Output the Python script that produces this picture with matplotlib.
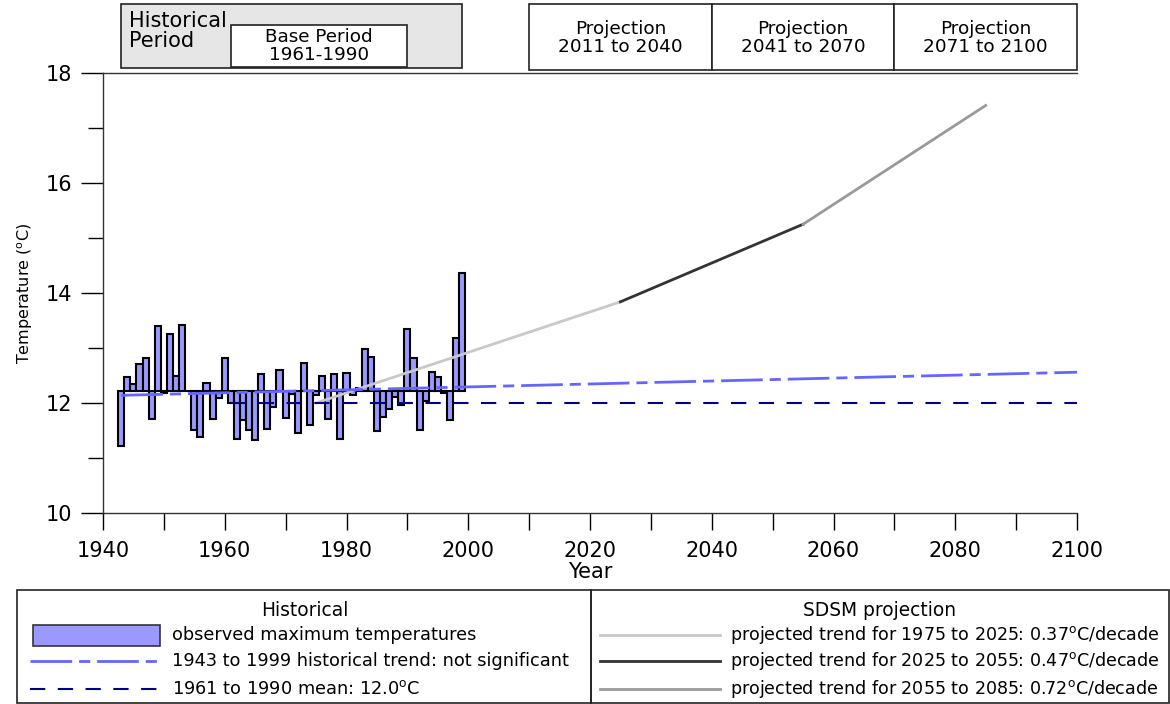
import numpy as np
import matplotlib
matplotlib.use("Agg")
import matplotlib.pyplot as plt
import matplotlib.transforms as mtransforms
from matplotlib.patches import Rectangle
from matplotlib.lines import Line2D

plt.rcParams['font.family'] = ['DejaVu Sans']
plt.rcParams['lines.scale_dashes'] = False

# observed maximum temperatures 1943-1999
years = np.arange(1943, 2000)
obs_temp = [11.21, 12.47, 12.35, 12.71, 12.82, 11.71, 13.40, 12.18, 13.25, 12.49,
            13.41, 12.22, 11.51, 11.38, 12.37, 11.71, 12.09, 12.81, 12.00, 11.35,
            11.69, 11.51, 11.33, 12.53, 11.53, 11.93, 12.60, 11.73, 12.16, 11.45,
            12.72, 11.60, 12.15, 12.50, 11.71, 12.52, 11.35, 12.55, 12.15, 12.27,
            12.99, 12.84, 11.50, 11.75, 11.90, 12.11, 11.96, 13.35, 12.82, 11.51,
            12.04, 12.56, 12.48, 12.19, 11.70, 13.19, 14.37]
bar_base = 12.22

# historical trend (not significant) and base-period mean
trend_years = [1943, 2100]
trend_vals = [12.14, 12.56]
mean_years = [1961, 2100]
mean_vals = [12.0, 12.0]

# SDSM projections
proj1_years, proj1_vals = [1975, 2025], [12.0, 13.84]
proj2_years, proj2_vals = [2025, 2055], [13.84, 15.25]
proj3_years, proj3_vals = [2055, 2085], [15.25, 17.41]

fig = plt.figure(figsize=(11.7, 7.04), dpi=100)
ax = fig.add_axes([103 / 1170, 1 - 513 / 704, 974 / 1170, 440 / 704])

bar_col = '#9999ff'
trend_col = '#6666ff'
mean_col = '#000080'

heights = [v - bar_base for v in obs_temp]
ax.bar(years, heights, bottom=bar_base, width=1.0, color=bar_col,
       edgecolor='black', linewidth=1.5, zorder=2)

ax.plot(proj1_years, proj1_vals, color='#c8c8c8', lw=2, zorder=3)
ax.plot(proj2_years, proj2_vals, color='#333333', lw=2, zorder=3)
ax.plot(proj3_years, proj3_vals, color='#999999', lw=2, zorder=3)
ax.plot(trend_years, trend_vals, color=trend_col, lw=2, dashes=(30, 5, 8, 5), zorder=4)
ax.plot(mean_years, mean_vals, color=mean_col, lw=1.5, dashes=(11, 9), zorder=4)

ax.set_xlim(1940, 2100)
ax.set_ylim(10, 18)
ax.set_xticks(np.arange(1940, 2101, 20))
ax.set_xticks(np.arange(1950, 2100, 20), minor=True)
ax.set_yticks(np.arange(10, 19, 2))
ax.set_yticks(np.arange(11, 18, 2), minor=True)
ax.tick_params(axis='y', which='major', length=16, width=1, pad=6, labelsize=15)
ax.tick_params(axis='y', which='minor', length=11, width=1)
ax.tick_params(axis='x', which='major', length=12, width=1, pad=8, labelsize=15)
ax.tick_params(axis='x', which='minor', length=12, width=1)
ax.spines['right'].set_visible(False)
for s in ['left', 'bottom', 'top']:
    ax.spines[s].set_linewidth(1)
    ax.spines[s].set_color('#333333')
ax.set_xlabel('Year', fontsize=15, labelpad=1, fontweight='medium')
ax.set_ylabel('Temperature ($^{\\mathrm{o}}$C)', fontsize=11.5, labelpad=8)

# header boxes (x in data years, y in figure coords)
trans = mtransforms.blended_transform_factory(ax.transData, fig.transFigure)

def fy(py):
    return 1 - py / 704

def header_box(x0, x1, y0, y1, face):
    r = Rectangle((x0, fy(y1)), x1 - x0, fy(y0) - fy(y1), transform=trans,
                  facecolor=face, edgecolor='#222222', lw=1.2, clip_on=False)
    fig.add_artist(r)

header_box(1943, 1999, 4, 68, '#e6e6e6')
header_box(1961, 1990, 25, 67, 'white')
fig.text(1944.2, fy(11), 'Historical\nPeriod', transform=trans, fontsize=15,
         va='top', ha='left', linespacing=1.0)
fig.text(1975.5, fy(46), 'Base Period\n1961-1990', transform=trans, fontsize=13.2,
         va='center', ha='center', linespacing=1.05)
for x0, x1, lab in [(2010, 2040, 'Projection\n2011 to 2040'),
                    (2040, 2070, 'Projection\n2041 to 2070'),
                    (2070, 2100, 'Projection\n2071 to 2100')]:
    header_box(x0, x1, 4, 70, 'white')
    fig.text((x0 + x1) / 2, fy(38), lab, transform=trans, fontsize=13.3,
             va='center', ha='center', linespacing=1.05)

# legend panels
def px(x):
    return x / 1170

fig.add_artist(Rectangle((px(17), fy(703)), px(574), fy(590) - fy(703),
                         transform=fig.transFigure, facecolor='none',
                         edgecolor='#222222', lw=1.2))
fig.add_artist(Rectangle((px(591), fy(703)), px(578), fy(590) - fy(703),
                         transform=fig.transFigure, facecolor='none',
                         edgecolor='#222222', lw=1.2))

fig.text(px(305), fy(611), 'Historical', fontsize=13.4, ha='center', va='center')
fig.text(px(880), fy(611), 'SDSM projection', fontsize=13.4, ha='center', va='center')

fig.add_artist(Rectangle((px(33), fy(646)), px(127), fy(625) - fy(646),
                         transform=fig.transFigure, facecolor=bar_col,
                         edgecolor='#333333', lw=1.2))
fig.add_artist(Line2D([px(30), px(160)], [fy(661), fy(661)], transform=fig.transFigure,
                      color=trend_col, lw=2, dashes=(30, 5, 8, 5)))
fig.add_artist(Line2D([px(30), px(160)], [fy(689), fy(689)], transform=fig.transFigure,
                      color=mean_col, lw=1.5, dashes=(11, 9)))
left_labels = ['observed maximum temperatures',
               '1943 to 1999 historical trend: not significant',
               '1961 to 1990 mean: 12.0$^{\\mathrm{o}}$C']
for lab, py in zip(left_labels, [635, 661, 689]):
    fig.text(px(172), fy(py), lab, fontsize=12.8, ha='left', va='center')

right_cols = ['#c8c8c8', '#333333', '#999999']
right_labels = ['projected trend for 1975 to 2025: 0.37$^{\\mathrm{o}}$C/decade',
                'projected trend for 2025 to 2055: 0.47$^{\\mathrm{o}}$C/decade',
                'projected trend for 2055 to 2085: 0.72$^{\\mathrm{o}}$C/decade']
for col, lab, py in zip(right_cols, right_labels, [635, 661, 689]):
    fig.add_artist(Line2D([px(600), px(720)], [fy(py), fy(py)], transform=fig.transFigure,
                          color=col, lw=2))
    fig.text(px(730), fy(py), lab, fontsize=12.6, ha='left', va='center')

fig.savefig('out.png', dpi=100)
